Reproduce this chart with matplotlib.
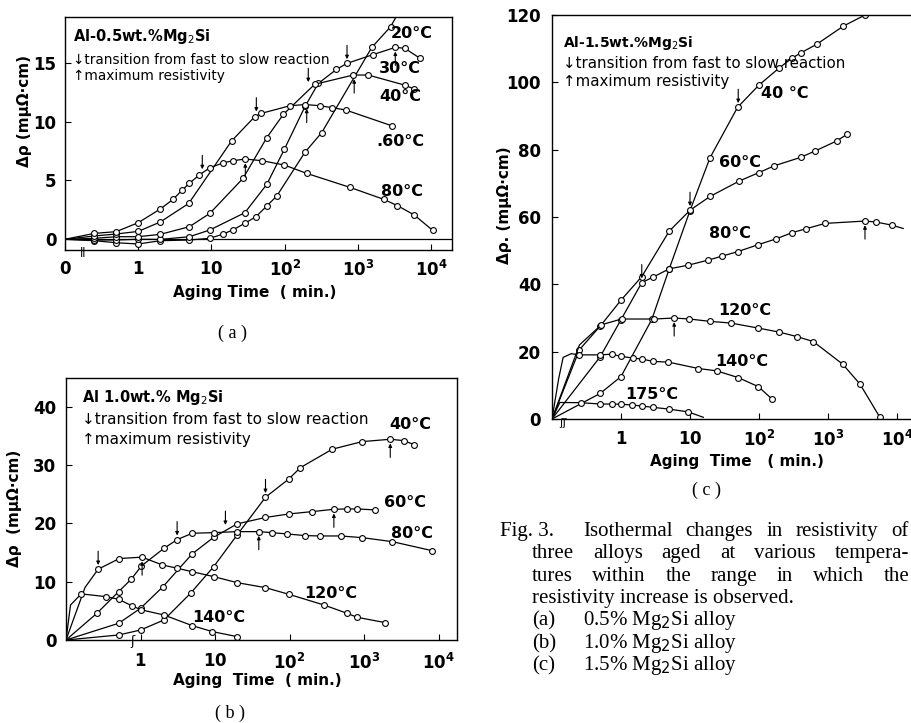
import numpy as np
import matplotlib
matplotlib.use("Agg")
import matplotlib.pyplot as plt

plt.rcParams['font.family'] = ['DejaVu Sans']
plt.rcParams['mathtext.fontset'] = 'dejavusans'

W, H = 912, 723
T0 = 0.1   # aging time "0" is drawn on the left edge of the log axis

# ---------------- (a) Al-0.5wt.% Mg2Si ----------------
a20_t = [0, 0.25, 0.5, 1, 2, 5, 9.5, 14.5, 19.5, 28.6, 40.5, 57, 78, 189, 320, 1550, 2800, 4000]
a20_v = [0, -0.12, -0.29, -0.4, -0.12, -0.06, 0.08, 0.45, 0.79, 1.36, 1.92, 2.83, 3.68, 7.39, 9.06, 16.31, 18.07, 19.8]
a30_t = [0, 0.25, 0.5, 1, 2, 5, 9.5, 28.6, 57, 99, 190, 288, 510, 710, 1620, 3240, 4370, 7050]
a30_v = [0, -0.06, -0.06, 0, -0.01, 0.22, 0.79, 2.26, 4.67, 7.65, 11.3, 13.25, 14.44, 14.95, 15.7, 16.31, 16.23, 15.38]
a40_t = [0, 0.25, 0.5, 1, 2, 5, 9.5, 27, 57, 96, 257, 865, 1380, 4370, 5880]
a40_v = [0, 0.08, 0.22, 0.22, 0.42, 1.07, 2.2, 5.18, 8.64, 10.62, 13.17, 13.96, 13.96, 13.1, 12.77]
a60_t = [0, 0.25, 0.5, 1, 2, 4.9, 18.8, 39, 48, 118, 190, 303, 447, 680, 2890]
a60_v = [0, 0.28, 0.45, 0.67, 1.47, 3.05, 8.35, 10.42, 10.7, 11.35, 11.45, 11.35, 11.18, 10.99, 9.65]
a80_t = [0, 0.25, 0.5, 1, 2, 3, 4, 5, 6.8, 9.5, 14.5, 19.9, 28.6, 49, 99, 200, 780, 2240, 3470, 5900, 10500]
a80_v = [0, 0.5, 0.65, 1.41, 2.57, 3.4, 4.19, 4.76, 5.46, 6.08, 6.5, 6.68, 6.82, 6.68, 6.31, 5.6, 4.41, 3.4, 2.86, 2.06, 0.76]
a_dn_t = [7.5, 41, 210, 710]
a_dn_v = [5.6, 10.5, 13.0, 14.95]
a_up_t = [29, 200, 890, 3240]
a_up_v = [6.82, 11.45, 13.96, 16.31]
a_lab = ["20°C", "30°C", "40°C", ".60°C", "80°C"]
a_lab_t = [5430, 3760, 3760, 3760, 3980]
a_lab_v = [17.5, 14.5, 12.1, 8.3, 4.1]

# ---------------- (b) Al-1.0wt.% Mg2Si ----------------
b40_t = [0, 0.51, 1, 2.06, 4.69, 9.6, 19.8, 47.6, 98, 140, 375, 945, 2250, 3400, 4680]
b40_v = [0, 0.86, 1.71, 3.43, 8.0, 12.57, 18.0, 24.46, 27.6, 29.54, 32.7, 34.0, 34.4, 34.17, 33.5]
b60_t = [0, 0.51, 1, 2.01, 4.93, 9.6, 19.8, 47.6, 98, 200, 394, 593, 808, 1420]
b60_v = [0, 2.87, 5.43, 9.16, 14.75, 17.6, 19.9, 21.0, 21.6, 22.0, 22.4, 22.46, 22.46, 22.29]
b80_t = [0, 0.26, 0.51, 0.75, 1.03, 2.06, 3.1, 4.93, 9.6, 19.8, 38.7, 58, 93, 163, 260, 484, 945, 2390, 8200]
b80_v = [0, 4.58, 8.3, 10.41, 12.7, 15.7, 17.2, 18.29, 18.4, 18.57, 18.57, 18.4, 18.17, 17.89, 17.83, 17.83, 17.54, 16.86, 15.31]
b120_t = [0, 0.18, 0.27, 0.52, 1.05, 1.95, 3.1, 4.93, 9.6, 19.8, 47.6, 98, 290, 593, 808, 1940]
b120_v = [0, 9.0, 12.13, 13.96, 14.2, 12.87, 12.3, 11.71, 10.86, 9.83, 8.97, 7.83, 6.0, 4.57, 3.89, 2.97]
b140_t = [0, 0.115, 0.16, 0.34, 0.51, 0.77, 1.03, 2.06, 4.93, 9.2, 19.8]
b140_v = [0, 6.0, 7.9, 7.44, 6.98, 5.84, 5.16, 4.29, 2.47, 1.44, 0.58]
b_dn_t = [0.27, 3.1, 13.8, 47.6]
b_dn_v = [12.13, 17.2, 19.0, 24.46]
b_up_t = [1.05, 38.7, 394, 2250]
b_up_v = [14.2, 18.57, 22.4, 34.4]
b_lab = ["40°C", "60°C", "80°C", "120°C", "140°C"]
b_lab_t = [4200, 3600, 4440, 363, 11.2]
b_lab_v = [36.9, 23.6, 18.3, 8.0, 3.8]

# ---------------- (c) Al-1.5wt.% Mg2Si ----------------
c40_t = [0, 0.5, 1, 2.8, 5, 10, 19.5, 49, 100, 197, 297, 400, 685, 1670, 3440]
c40_v = [0, 7.6, 12.6, 29.6, 44.6, 61.9, 77.6, 92.6, 99.2, 104.3, 107.1, 108.7, 111.3, 116.7, 120.0]
c60_t = [0, 0.25, 0.5, 1, 2, 5, 10, 19.5, 52, 100, 166, 400, 650, 1340, 1900]
c60_v = [0, 20.6, 27.6, 35.3, 42.3, 55.8, 62.0, 66.1, 70.7, 73.2, 75.2, 77.7, 79.6, 82.6, 84.6]
c80_t = [0, 0.5, 1, 2, 2.95, 5, 9.5, 18.4, 29.4, 49, 98, 177, 297, 477, 910, 3435, 4970, 8330, 12300]
c80_v = [0, 18.5, 29.5, 40.5, 42.2, 44.6, 45.7, 47.2, 48.4, 49.7, 51.8, 53.5, 55.3, 56.5, 58.1, 58.8, 58.5, 57.6, 56.6]
c120_t = [0, 0.25, 0.52, 1.02, 3.04, 5.9, 9.8, 19.5, 39, 98, 197, 352, 612, 1630, 2900, 5650]
c120_v = [0, 22, 28.0, 29.7, 29.7, 30.0, 29.7, 29.0, 28.5, 27.0, 25.8, 24.5, 23.0, 16.3, 10.4, 0.5]
c140_t = [0, 0.125, 0.145, 0.19, 0.25, 0.5, 0.73, 1, 1.5, 2, 2.95, 4.85, 13.2, 24.4, 50, 98, 153]
c140_v = [0, 12, 18.3, 19.4, 19.05, 19.05, 19.25, 18.6, 18.1, 17.8, 17.1, 16.9, 15.0, 14.3, 12.3, 9.6, 6.0]
c175_t = [0, 0.13, 0.26, 0.5, 0.73, 1, 1.43, 2, 2.9, 4.9, 9.5, 15.6]
c175_v = [0, 4.9, 4.85, 4.45, 4.45, 4.4, 4.16, 3.86, 3.46, 2.96, 2.1, 0.5]
c_dn_t = [2.0, 10, 50]
c_dn_v = [40.5, 62.0, 92.6]
c_up_t = [5.9, 3435]
c_up_v = [30.0, 58.8]
c_lab = ["40 °C", "60°C", "80°C", "120°C", "140°C", "175°C"]
c_lab_t = [238, 53, 38, 63, 56, 2.78]
c_lab_v = [96.7, 76.2, 55, 32.2, 17.1, 7.35]

xt_vals = [1, 10, 100, 1000, 10000]
xt_labels = [r'$\mathbf{1}$', r'$\mathbf{10}$', r'$\mathbf{10^{2}}$', r'$\mathbf{10^{3}}$', r'$\mathbf{10^{4}}$']


def tx(t):
    t = np.asarray(t, float)
    return np.where(t <= 0, T0, t)


def curve(ax, t, v, lead=1, tail=0):
    n = len(t)
    ax.plot(tx(t), v, '-', color='k', lw=0.9, marker='o', ms=4.2, mfc='white',
            mec='k', mew=0.8, markevery=list(range(lead, n - tail)))


def arrows(ax, ts, vs, down=True):
    off = 13 if down else -13
    for t, v in zip(ts, vs):
        ax.annotate('', xy=(t, v), xytext=(0, off), textcoords='offset points',
                    arrowprops=dict(arrowstyle='-|>', color='k', lw=0.8,
                                    mutation_scale=5, shrinkA=0, shrinkB=3))


def setup(ax, xmax, ylim, yticks, xpad, ypad):
    ax.set_xscale('log')
    ax.set_xlim(T0, xmax)
    ax.set_ylim(*ylim)
    ax.set_yticks(yticks)
    ax.set_yticklabels([str(y) for y in yticks], fontweight='bold')
    ax.xaxis.set_minor_locator(matplotlib.ticker.NullLocator())
    ax.tick_params(direction='in', length=4, width=0.8, labelsize=12)
    ax.tick_params(axis='x', pad=xpad)
    ax.tick_params(axis='y', pad=ypad)
    for s in ax.spines.values():
        s.set_linewidth(1.0)


def box(ax, title, x, y1, y2, y3, tsize, size):
    ax.text(x, y1, title, transform=ax.transAxes, fontsize=tsize, fontweight='bold', va='center')
    ax.text(x, y2, '↓transition from fast to slow reaction', transform=ax.transAxes, fontsize=size, va='center')
    ax.text(x, y3, '↑maximum resistivity', transform=ax.transAxes, fontsize=size, va='center')


def labels(ax, names, ts, vs):
    for s, t, v in zip(names, ts, vs):
        ax.text(t, v, s, fontsize=11.5, fontweight='bold', ha='center', va='center')


def ftext(x, y, s, **kw):
    fig.text(x / W, 1 - y / H, s, **kw)


fig = plt.figure(figsize=(W / 100, H / 100), dpi=100)

# ---- panel (a)
ax = fig.add_axes([65 / W, 1 - 250 / H, 387 / W, 233 / H])
setup(ax, 10 ** 4.285, (-0.91, 18.89), [0, 5, 10, 15], 7, 6)
ax.set_xticks([T0] + xt_vals)
ax.set_xticklabels([r'$\mathbf{0}$'] + xt_labels)
ax.axhline(0, color='k', lw=0.9)
curve(ax, a20_t, a20_v, 1, 1)
curve(ax, a30_t, a30_v)
curve(ax, a40_t, a40_v)
curve(ax, a60_t, a60_v)
curve(ax, a80_t, a80_v)
arrows(ax, a_dn_t, a_dn_v, True)
arrows(ax, a_up_t, a_up_v, False)
labels(ax, a_lab, a_lab_t, a_lab_v)
box(ax, 'Al-0.5wt.%Mg$_2$Si', 0.02, 0.915, 0.815, 0.745, 10.5, 9.8)
ax.text(0.045, -0.01, 'ǁ', transform=ax.transAxes, fontsize=8, ha='center', va='center')
ftext(255, 293, 'Aging Time  ( min.)', fontsize=11, fontweight='bold', ha='center', va='center')
ftext(25, 111, 'Δρ (mμΩ·cm)', fontsize=11, fontweight='bold', ha='center', va='center', rotation=90)
ftext(233, 333, '( a )', fontsize=13, family='Liberation Serif', ha='center', va='center')

# ---- panel (b)
ax = fig.add_axes([66 / W, 1 - 640 / H, 391 / W, 262 / H])
setup(ax, 10 ** 4.248, (0, 44.9), [0, 10, 20, 30, 40], 9, 7)
ax.set_xticks(xt_vals)
ax.set_xticklabels(xt_labels)
curve(ax, b40_t, b40_v)
curve(ax, b60_t, b60_v)
curve(ax, b80_t, b80_v)
curve(ax, b120_t, b120_v, 2)
curve(ax, b140_t, b140_v, 2)
arrows(ax, b_dn_t, b_dn_v, True)
arrows(ax, b_up_t, b_up_v, False)
labels(ax, b_lab, b_lab_t, b_lab_v)
box(ax, 'Al 1.0wt.% Mg$_2$Si', 0.04, 0.925, 0.84, 0.765, 10.5, 11)
ax.text(0.17, -0.005, 'ʃ', transform=ax.transAxes, fontsize=9, ha='center', va='center')
ftext(257, 680, 'Aging  Time  ( min.)', fontsize=11, fontweight='bold', ha='center', va='center')
ftext(15, 508, 'Δρ  (mμΩ·cm)', fontsize=11, fontweight='bold', ha='center', va='center', rotation=90)
ftext(230, 713, '( b )', fontsize=13, family='Liberation Serif', ha='center', va='center')

# ---- panel (c)
ax = fig.add_axes([552 / W, 1 - 419 / H, 365.7 / W, 404 / H])
setup(ax, 10 ** 4.3, (0, 120), [0, 20, 40, 60, 80, 100, 120], 8, 8)
ax.set_xticks(xt_vals)
ax.set_xticklabels(xt_labels)
curve(ax, c40_t, c40_v)
curve(ax, c60_t, c60_v)
curve(ax, c80_t, c80_v, 1, 1)
curve(ax, c120_t, c120_v, 2)
curve(ax, c140_t, c140_v, 4)
curve(ax, c175_t, c175_v, 2, 1)
arrows(ax, c_dn_t, c_dn_v, True)
arrows(ax, c_up_t, c_up_v, False)
labels(ax, c_lab, c_lab_t, c_lab_v)
box(ax, 'Al-1.5wt.%Mg$_2$Si', 0.03, 0.93, 0.88, 0.835, 10, 10.8)
ax.text(0.03, -0.01, 'ʃʃ', transform=ax.transAxes, fontsize=8, ha='center', va='center')
ftext(737, 462, 'Aging  Time   ( min.)', fontsize=11, fontweight='bold', ha='center', va='center')
ftext(505, 205, 'Δρ. (mμΩ·cm)', fontsize=11, fontweight='bold', ha='center', va='center', rotation=90)
ftext(707, 490, '( c )', fontsize=13, family='Liberation Serif', ha='center', va='center')

# ---- caption
cap_size = 15
renderer = fig.canvas.get_renderer()


def justify(line, x0, x1, y):
    words = line.split()
    items = [fig.text(0, 0, w, fontsize=cap_size, family='Liberation Serif', va='baseline') for w in words]
    widths = [it.get_window_extent(renderer).width for it in items]
    gap = (x1 - x0 - sum(widths)) / (len(words) - 1)
    x = x0
    for it, w in zip(items, widths):
        it.set_position((x / W, 1 - y / H))
        x += w + gap


cap_kw = dict(fontsize=cap_size, family='Liberation Serif', va='baseline')
ftext(500, 536, 'Fig. 3.', **cap_kw)
justify('Isothermal changes in resistivity of', 583, 909, 536)
justify('three alloys aged at various tempera-', 532, 909, 558)
justify('tures within the range in which the', 532, 909, 581)
ftext(532, 603, 'resistivity increase is observed.', **cap_kw)
ftext(532, 625, '(a)', **cap_kw)
ftext(583, 625, '0.5% Mg$_2$Si alloy', **cap_kw)
ftext(532, 648, '(b)', **cap_kw)
ftext(583, 648, '1.0% Mg$_2$Si alloy', **cap_kw)
ftext(532, 670, '(c)', **cap_kw)
ftext(583, 670, '1.5% Mg$_2$Si alloy', **cap_kw)

fig.savefig('out.png', dpi=100)
